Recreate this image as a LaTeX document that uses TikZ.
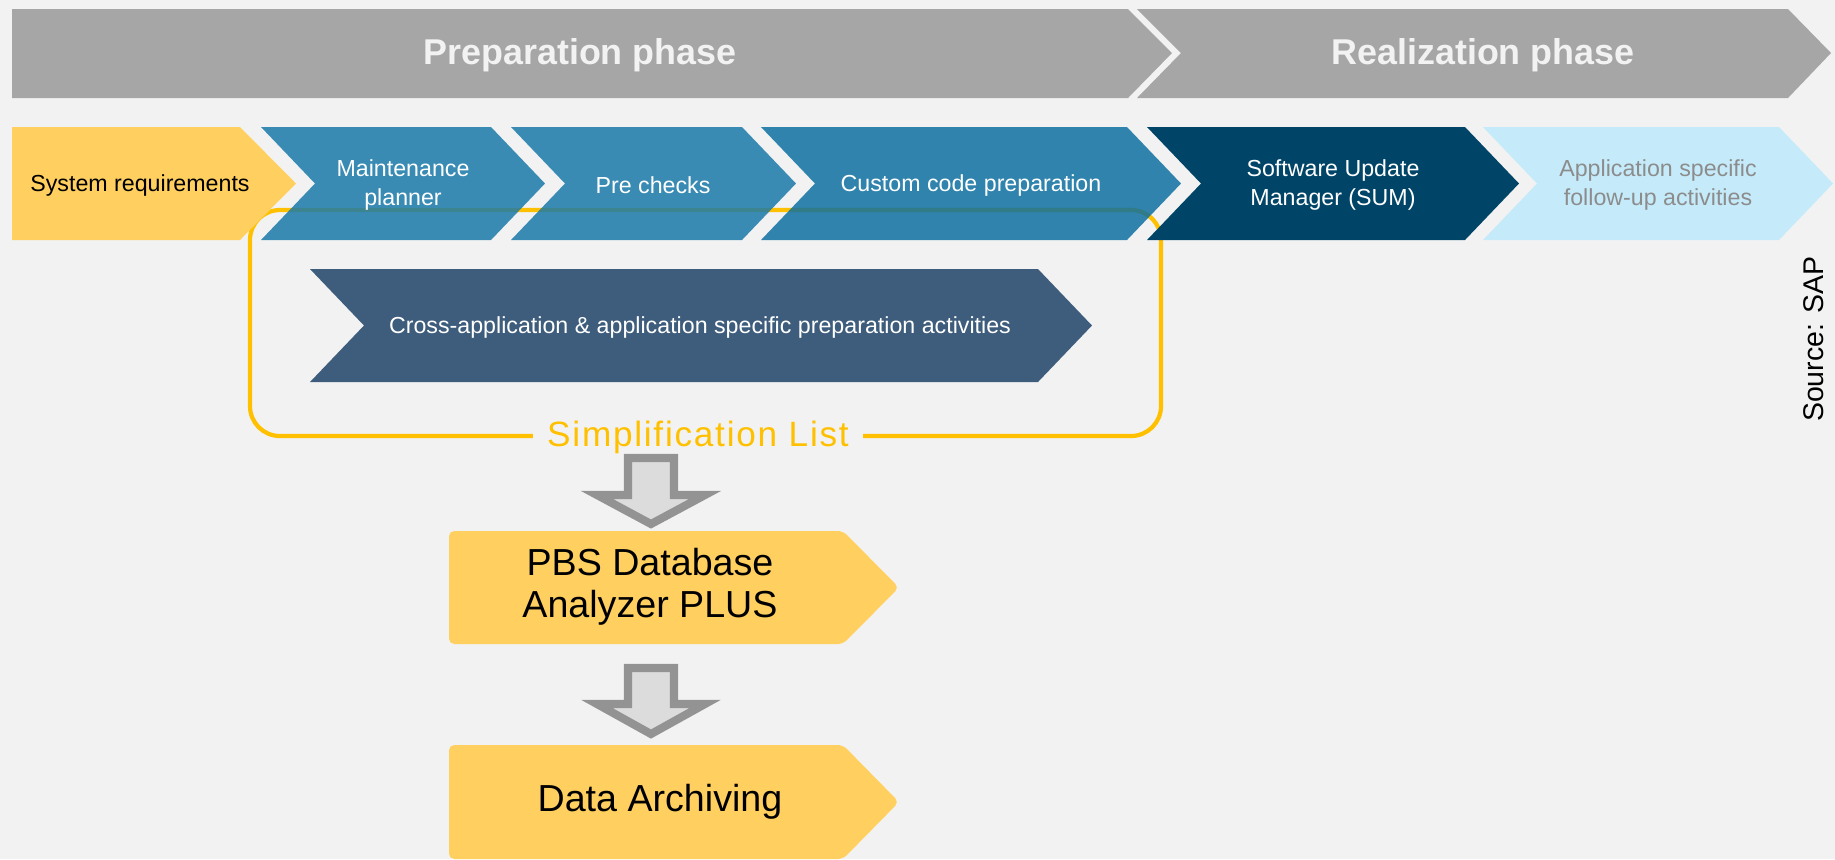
\documentclass[tikz,border=0pt]{standalone}
\usepackage{fontspec}
\setmainfont{Liberation Sans}
\usepackage{xcolor}
\usetikzlibrary{positioning}

\definecolor{bggrey}{HTML}{F2F2F2}
\definecolor{phasegrey}{HTML}{A6A6A6}
\definecolor{sapgold}{HTML}{FFD05F}
\definecolor{prepblue}{HTML}{197AAA}
\definecolor{codeblue}{HTML}{0D70A0}
\definecolor{sumblue}{HTML}{004468}
\definecolor{followblue}{HTML}{C5EBFA}
\definecolor{crossblue}{HTML}{3E5D7C}
\definecolor{framegold}{HTML}{FFC000}
\definecolor{arrowgrey}{HTML}{939393}
\definecolor{arrowfill}{HTML}{DCDCDC}

\begin{document}
\begin{tikzpicture}[x=0.01cm,y=-0.01cm]
	\tikzstyle{phase}=[fill=phasegrey]
	\tikzstyle{phasetext}=[text=bggrey, font=\bfseries\fontsize{10.2}{12}\selectfont]
	\tikzstyle{stepbox}=[fill opacity=0.85]
	\tikzstyle{steptext}=[align=center, text=white, font=\fontsize{6.6}{8}\selectfont]
	\tikzstyle{toolbox}=[fill=sapgold, rounded corners=1.5pt]
	\tikzstyle{tooltext}=[align=center, font=\fontsize{10.7}{12}\selectfont]
	\tikzstyle{bigarrow}=[draw=arrowgrey, fill=arrowfill, line width=2.3pt, line join=miter]
	\useasboundingbox (0,0) rectangle (1835,859);
	\fill[bggrey] (0,0) rectangle (1835,859);

	% phases
	\fill[phase] (12,9) -- (1128,9) -- (1172,53) -- (1128,98) -- (12,98) -- cycle;
	\fill[phase] (1137,9) -- (1788,9) -- (1831,53) -- (1788,98) -- (1137,98) -- (1181,53) -- cycle;
	\node[phasetext, anchor=base] (prep) at (580,64) {Preparation phase};
	\node[phasetext, anchor=base] (real) at (1483,64) {Realization phase};

	% simplification list frame
	\draw[framegold, line width=1.2pt, rounded corners=8.5pt] (250,210) rectangle (1161,436);

	% steps
	\fill[sapgold] (12,127) -- (240,127) -- (296,183.5) -- (240,240) -- (12,240) -- cycle;
	\fill[stepbox, prepblue] (261,127) -- (491,127) -- (545,183.5) -- (491,240) -- (261,240) -- (315,183.5) -- cycle;
	\fill[stepbox, prepblue] (511,127) -- (742,127) -- (796,183.5) -- (742,240) -- (511,240) -- (565,183.5) -- cycle;
	\fill[stepbox, codeblue] (761,127) -- (1127,127) -- (1181,183.5) -- (1127,240) -- (761,240) -- (815,183.5) -- cycle;
	\fill[sumblue] (1147,127) -- (1465,127) -- (1519,183.5) -- (1465,240) -- (1147,240) -- (1201,183.5) -- cycle;
	\fill[followblue] (1483,127) -- (1779,127) -- (1833,183.5) -- (1779,240) -- (1483,240) -- (1537,183.5) -- cycle;
	\node[steptext, text=black] (sysreq) at (140,185) {System requirements};
	\node[steptext] (maint) at (403,185) {Maintenance\\planner};
	\node[steptext] (prechk) at (653,185) {Pre checks};
	\node[steptext] (custom) at (971,185) {Custom code preparation};
	\node[steptext] (sum) at (1333,185) {Software Update\\Manager (SUM)};
	\node[steptext, text=black!45] (follow) at (1658,185) {Application specific\\follow-up activities};

	\fill[crossblue] (310,269) -- (1038,269) -- (1092,325.5) -- (1038,382) -- (310,382) -- (364,325.5) -- cycle;
	\node[steptext] (cross) at (700,327) {Cross-application \& application specific preparation activities};

	\node[fill=bggrey, inner xsep=4pt, inner ysep=1pt, text=framegold,
		font=\fontsize{10}{12}\selectfont\addfontfeature{LetterSpace=5}] (simpl) at (698,437) {Simplification List};

	% tools
	\fill[toolbox] (449,531) -- (843,531) -- (899,587.5) -- (843,644) -- (449,644) -- cycle;
	\fill[toolbox] (449,745) -- (843,745) -- (899,802) -- (843,859) -- (449,859) -- cycle;
	\node[tooltext] (pbs) at (650,587) {PBS Database\\Analyzer PLUS};
	\node[tooltext] (arch) at (660,802) {Data Archiving};

	\coordinate (a1) at (651,458);
	\coordinate (a2) at (651,668);
	\draw[bigarrow] (a1) ++(-23,0) -- ++(46,0) -- ++(0,37) -- ++(31,0) -- ++(-54,29) -- ++(-54,-29) -- ++(31,0) -- cycle;
	\draw[bigarrow] (a2) ++(-23,0) -- ++(46,0) -- ++(0,36) -- ++(31,0) -- ++(-54,30) -- ++(-54,-30) -- ++(31,0) -- cycle;

	\node[rotate=90, font=\fontsize{8.1}{10}\selectfont] (src) at (1814,339) {Source: SAP};
\end{tikzpicture}
\end{document}
